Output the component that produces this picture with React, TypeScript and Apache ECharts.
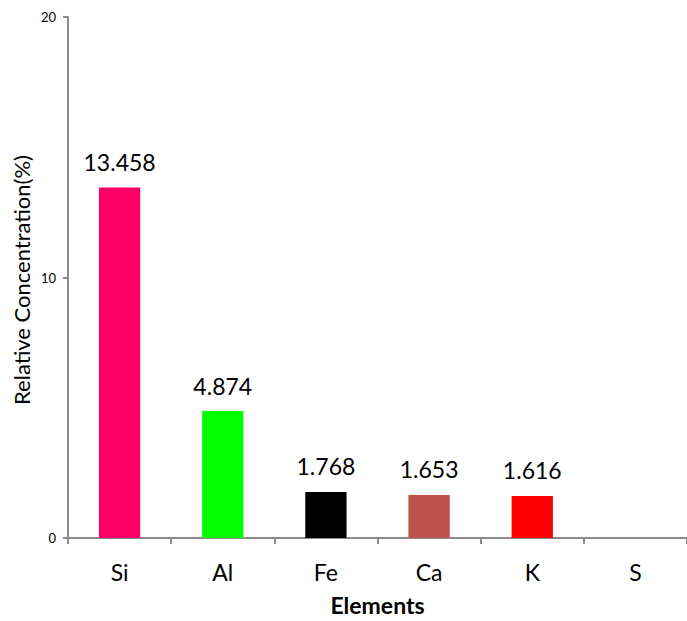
import React, { useEffect, useRef } from "react";
import * as echarts from "echarts";

const elements = ["Si", "Al", "Fe", "Ca", "K", "S"];
const concentrations: (number | null)[] = [13.458, 4.874, 1.768, 1.653, 1.616, null];
const barColors = ["#FF0066", "#00FF00", "#000000", "#C0504D", "#FF0000", "#FFFFFF"];
const yTicks = [0, 10, 20];
const yTitle = "Relative Concentration(%)";
const xTitle = "Elements";

const FONT = "Lato, 'Open Sans', sans-serif";

export default function App() {
  const ref = useRef<HTMLDivElement>(null);

  useEffect(() => {
    if (!ref.current) return;
    const chart = echarts.init(ref.current, null, { renderer: "svg" });
    chart.setOption({
      animation: false,
      backgroundColor: "#ffffff",
      grid: { left: 68, top: 17, width: 626, height: 526, containLabel: false },
      graphic: [
        {
          type: "text",
          x: 21,
          y: 280,
          rotation: Math.PI / 2,
          style: {
            text: yTitle,
            fill: "#000",
            fontSize: 22,
            fontFamily: FONT,
            align: "center",
            verticalAlign: "middle",
          },
        },
      ],
      xAxis: {
        type: "category",
        data: elements,
        boundaryGap: true,
        axisLine: { show: true, lineStyle: { color: "#8c8c8c", width: 2 } },
        axisTick: { show: true, alignWithLabel: false, length: 6, lineStyle: { color: "#8c8c8c", width: 2 } },
        axisLabel: { color: "#000", fontSize: 23, fontFamily: FONT, margin: 22 },
        name: xTitle,
        nameLocation: "middle",
        nameGap: 55,
        nameTextStyle: { color: "#000", fontSize: 23, fontWeight: "bold", fontFamily: FONT },
      },
      yAxis: {
        type: "value",
        min: yTicks[0],
        max: yTicks[yTicks.length - 1],
        interval: 10,
        splitLine: { show: false },
        axisLine: { show: true, lineStyle: { color: "#8c8c8c", width: 2 } },
        axisTick: { show: true, length: 5, lineStyle: { color: "#8c8c8c", width: 2 } },
        axisLabel: { color: "#000", fontSize: 13, fontFamily: FONT, margin: 12 },
      },
      series: [
        {
          type: "bar",
          barWidth: "40%",
          data: concentrations.map((v, i) => ({
            value: v,
            itemStyle: { color: barColors[i] },
          })),
          label: {
            show: true,
            position: "top",
            distance: 14,
            color: "#000",
            fontSize: 23,
            fontFamily: FONT,
            formatter: (p: any) => (p.value == null ? "" : String(p.value)),
          },
        },
      ],
    });
    return () => chart.dispose();
  }, []);

  return <div ref={ref} style={{ width: 687, height: 621, position: "absolute", left: 0, top: 0 }} />;
}
